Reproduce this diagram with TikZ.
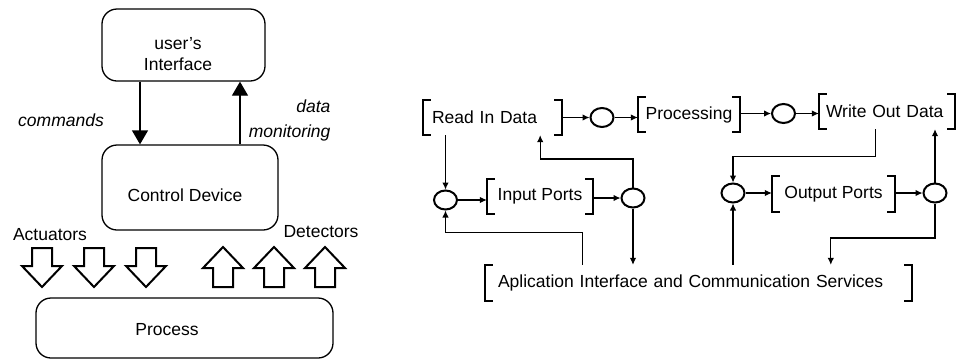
\documentclass[tikz,border=0pt]{standalone}
\usepackage{fontspec}
\setmainfont{Liberation Sans}
\usetikzlibrary{arrows.meta,shapes.geometric}
\begin{document}
\begin{tikzpicture}[x=1pt,y=-1pt,
  every node/.style={font=\fontsize{17.5}{21}\selectfont},
  box/.style={draw, line width=1.3pt, rounded corners=15pt},
  conn/.style={line width=1.1pt, -{Latex[length=7pt,width=6.5pt]}},
  bigarr/.style={line width=1.3pt, -{Triangle[length=14pt,width=16pt]}},
  brk/.style={inner sep=0pt, minimum height=35pt},
  brkline/.style={line width=2pt},
  junc/.style={draw, ellipse, line width=2pt, minimum width=23pt, minimum height=19pt, inner sep=0pt},
  blockarr/.style={draw, line width=2pt, line join=miter},
  lbl/.style={font=\fontsize{17.5}{25}\selectfont\itshape}
]
\useasboundingbox (0,0) rectangle (958,360);

% left part
\node[box, minimum width=163pt, minimum height=72pt,
  label={[align=center, xshift=-5.5pt, yshift=-9pt]center:user's\\Interface}] (ui) at (183.5,45) {};
\node[box, minimum width=176pt, minimum height=85pt,
  label={[xshift=-5pt, yshift=-7.5pt]center:Control Device}] (cd) at (190,187.5) {};
\node[box, minimum width=297pt, minimum height=60pt,
  label={[xshift=-17.5pt, yshift=-2pt]center:Process}] (proc0) at (184.5,328) {};

\draw[bigarr] ([xshift=-43.5pt]ui.south) -- ([xshift=-50pt]cd.north);
\draw[bigarr] ([xshift=50pt]cd.north) -- ([xshift=56.5pt]ui.south);

\node[lbl] (cmd) at (61,120) {commands};
\node[lbl, align=right, anchor=east] (dmt) at (334,120) {data\\monitoring};
\node (act) at (50,235) {Actuators};
\node (det) at (321,232) {Detectors};

\foreach \cx in {42,94,146}
  \draw[blockarr] (\cx-10,248) -- (\cx+10,248) -- (\cx+10,266) -- (\cx+20,266) -- (\cx,287) -- (\cx-20,266) -- (\cx-10,266) -- cycle;
\foreach \cx in {223,274,325}
  \draw[blockarr] (\cx-10,287) -- (\cx+10,287) -- (\cx+10,268) -- (\cx+20,268) -- (\cx,247) -- (\cx-20,268) -- (\cx-10,268) -- cycle;

% right part
\node[brk, minimum width=139pt, text width=121pt, align=left] (read) at (492.5,117.5) {Read In Data};
\node[brk, minimum width=102pt] (proc) at (689,114.5) {Processing};
\node[brk, minimum width=136pt, text width=122pt, align=left] (write) at (887,111.5) {Write Out Data};
\node[brk, minimum width=106pt] (inp) at (540,196.5) {Input Ports};
\node[brk, minimum width=123pt] (outp) at (833.5,194) {Output Ports};
\node[brk, minimum width=427pt, minimum height=36pt, text width=401pt, align=left] (app) at (698.5,283) {Aplication Interface and Communication Services};

\foreach \n in {read,proc,write,inp,outp,app} {
  \draw[brkline] ([xshift=8pt]\n.north west) -- (\n.north west) -- (\n.south west) -- ([xshift=8pt]\n.south west);
  \draw[brkline] ([xshift=-8pt]\n.north east) -- (\n.north east) -- (\n.south east) -- ([xshift=-8pt]\n.south east);
}

\node[junc] (j0) at (602,117.5) {};
\node[junc] (j1) at (445.5,200) {};
\node[junc] (j2) at (633,198) {};
\node[junc] (jb) at (783.5,113.5) {};
\node[junc] (j3) at (733,193) {};
\node[junc] (j4) at (935,193) {};

\draw[conn] (read.east |- j0) -- (j0.west);
\draw[conn] (j0.east) -- (j0.east -| proc.west);
\draw[conn] (proc.east |- jb) -- (jb.west);
\draw[conn] (jb.east) -- (jb.east -| write.west);
\draw[conn] (j1 |- read.south) -- (j1.north);
\draw[conn] (j1.east) -- (j1.east -| inp.west);
\draw[conn] (inp.east |- j2) -- (j2.west);
\draw[conn] (j2.north) -- ++(0,-28.5) -| ([xshift=-22pt]read.south east);
\draw[conn] (j2.south) -- (j2.south |- app.north);
\draw[conn] ([xshift=98pt]app.north west) -- ++(0,-32) -| (j1.south);
\draw[conn] ([xshift=-80pt]write.south east) -- ++(0,27) -| (j3.north);
\draw[conn] (j3.east) -- (j3.east -| outp.west);
\draw[conn] (outp.east |- j4) -- (j4.west);
\draw[conn] (j4.north) -- (j4.north |- write.south);
\draw[conn] (j4.south) -- ++(0,34.5) -| ([xshift=346pt]app.north west);
\draw[conn] (j3.south |- app.north) -- (j3.south);
\end{tikzpicture}
\end{document}
